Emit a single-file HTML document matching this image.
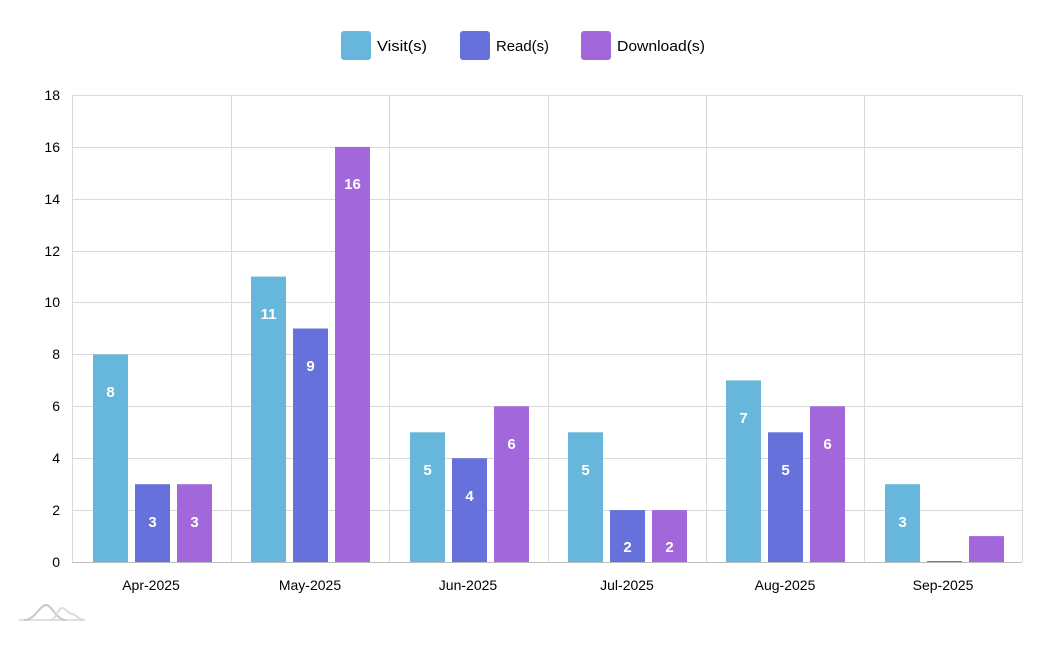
<!DOCTYPE html>
<html><head><meta charset="utf-8"><style>
html,body{margin:0;padding:0;background:#fff;}
svg{display:block;font-family:"Liberation Sans",sans-serif;}
</style></head><body>
<svg width="1043" height="653" viewBox="0 0 1043 653" xmlns="http://www.w3.org/2000/svg">
<!-- legend -->
<rect x="341" y="31" width="30" height="29" rx="3" fill="#67b7dc"/>
<text x="377" y="51" font-size="15" fill="#000" textLength="50" lengthAdjust="spacingAndGlyphs">Visit(s)</text>
<rect x="460" y="31" width="30" height="29" rx="3" fill="#6771dc"/>
<text x="496" y="51" font-size="15" fill="#000" textLength="53" lengthAdjust="spacingAndGlyphs">Read(s)</text>
<rect x="581" y="31" width="30" height="29" rx="3" fill="#a367dc"/>
<text x="617" y="51" font-size="15" fill="#000" textLength="88" lengthAdjust="spacingAndGlyphs">Download(s)</text>
<!-- grid -->
<g stroke="#d9d9d9" stroke-width="1">
<line x1="72" y1="95.5" x2="1022" y2="95.5"/>
<line x1="72" y1="147.5" x2="1022" y2="147.5"/>
<line x1="72" y1="199.5" x2="1022" y2="199.5"/>
<line x1="72" y1="251.5" x2="1022" y2="251.5"/>
<line x1="72" y1="302.5" x2="1022" y2="302.5"/>
<line x1="72" y1="354.5" x2="1022" y2="354.5"/>
<line x1="72" y1="406.5" x2="1022" y2="406.5"/>
<line x1="72" y1="458.5" x2="1022" y2="458.5"/>
<line x1="72" y1="510.5" x2="1022" y2="510.5"/>
<line x1="72.5" y1="95" x2="72.5" y2="562"/>
<line x1="231.5" y1="95" x2="231.5" y2="562"/>
<line x1="389.5" y1="95" x2="389.5" y2="562"/>
<line x1="548.5" y1="95" x2="548.5" y2="562"/>
<line x1="706.5" y1="95" x2="706.5" y2="562"/>
<line x1="864.5" y1="95" x2="864.5" y2="562"/>
<line x1="1022.5" y1="95" x2="1022.5" y2="562"/>
</g>
<line x1="72" y1="562.5" x2="1022" y2="562.5" stroke="#bbb"/>
<!-- y labels -->
<g font-size="14" text-anchor="end" fill="#000">
<text x="60" y="100">18</text><text x="60" y="152">16</text><text x="60" y="204">14</text>
<text x="60" y="256">12</text><text x="60" y="307">10</text><text x="60" y="359">8</text>
<text x="60" y="411">6</text><text x="60" y="463">4</text><text x="60" y="515">2</text>
<text x="60" y="567">0</text>
</g>
<!-- bars -->
<g>
<rect x="93" y="354.4" width="35" height="207.6" fill="#67b7dc"/>
<rect x="135" y="484.2" width="35" height="77.8" fill="#6771dc"/>
<rect x="177" y="484.2" width="35" height="77.8" fill="#a367dc"/>
<rect x="251" y="276.6" width="35" height="285.4" fill="#67b7dc"/>
<rect x="293" y="328.5" width="35" height="233.5" fill="#6771dc"/>
<rect x="335" y="146.9" width="35" height="415.1" fill="#a367dc"/>
<rect x="410" y="432.3" width="35" height="129.7" fill="#67b7dc"/>
<rect x="452" y="458.2" width="35" height="103.8" fill="#6771dc"/>
<rect x="494" y="406.3" width="35" height="155.7" fill="#a367dc"/>
<rect x="568" y="432.3" width="35" height="129.7" fill="#67b7dc"/>
<rect x="610" y="510.1" width="35" height="51.9" fill="#6771dc"/>
<rect x="652" y="510.1" width="35" height="51.9" fill="#a367dc"/>
<rect x="726" y="380.4" width="35" height="181.6" fill="#67b7dc"/>
<rect x="768" y="432.3" width="35" height="129.7" fill="#6771dc"/>
<rect x="810" y="406.3" width="35" height="155.7" fill="#a367dc"/>
<rect x="885" y="484.2" width="35" height="77.8" fill="#67b7dc"/>
<rect x="927" y="561" width="35" height="1" fill="#6771dc"/>
<rect x="969" y="536.1" width="35" height="25.9" fill="#a367dc"/>
</g>
<!-- value labels -->
<g font-size="15" font-weight="bold" fill="#fff" text-anchor="middle">
<text x="110.5" y="397">8</text><text x="152.5" y="527">3</text><text x="194.5" y="527">3</text>
<text x="268.5" y="319">11</text><text x="310.5" y="371">9</text><text x="352.5" y="189">16</text>
<text x="427.5" y="475">5</text><text x="469.5" y="501">4</text><text x="511.5" y="449">6</text>
<text x="585.5" y="475">5</text><text x="627.5" y="552">2</text><text x="669.5" y="552">2</text>
<text x="743.5" y="423">7</text><text x="785.5" y="475">5</text><text x="827.5" y="449">6</text>
<text x="902.5" y="527">3</text>
</g>
<!-- x labels -->
<g font-size="14" text-anchor="middle" fill="#000">
<text x="151" y="590">Apr-2025</text><text x="310" y="590">May-2025</text>
<text x="468" y="590">Jun-2025</text><text x="627" y="590">Jul-2025</text>
<text x="785" y="590">Aug-2025</text><text x="943" y="590">Sep-2025</text>
</g>
<!-- logo -->
<g fill="none" stroke-width="2">
<path d="M19 620 H85" stroke="#e0e0e0"/>
<path d="M24 620 C35 620 40 605 46 605 C52 605 56 620 66 620" stroke="#c8c8c8"/>
<path d="M50 620 C56 620 58 608 62 608 C66 608 68 614 72 614 C76 614 78 620 84 620" stroke="#dcdcdc"/>
</g>
</svg>
</body></html>
